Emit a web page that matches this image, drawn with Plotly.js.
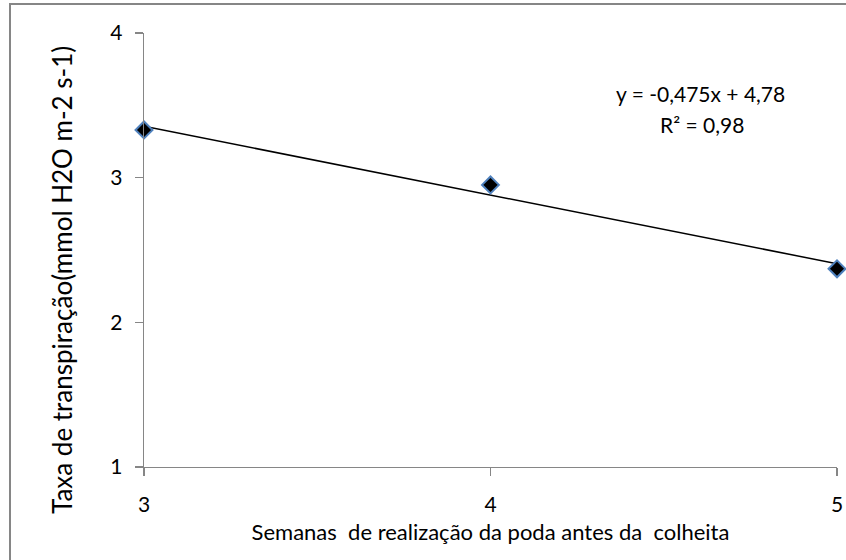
<!DOCTYPE html>
<html>
<head>
<meta charset="utf-8">
<script src="https://cdn.plot.ly/plotly-3.0.1.min.js"></script>
<style>html,body{margin:0;padding:0;background:#fff;}#chart{width:846px;height:560px;}</style>
</head>
<body>
<div id="chart"></div>
<script>
// Data
const weeks = [3, 4, 5];
const transpiration = [3.33, 2.95, 2.37];
const xTicks = [3, 4, 5];
const yTicks = [1, 2, 3, 4];
const trendSlope = -0.475;
const trendIntercept = 4.78;
const eqText = 'y = -0,475x + 4,78';
const r2Text = 'R\u00b2 = 0,98';
const xTitle = 'Semanas\u00a0 de realização da poda antes da\u00a0 colheita';
const yTitle = 'Taxa de transpiração(mmol H2O m-2 s-1)';

const trendX = [weeks[0], weeks[weeks.length - 1]];
const trendY = trendX.map(x => trendSlope * x + trendIntercept);

const font = 'Lato, "Open Sans", sans-serif';

const traces = [
  {
    x: trendX, y: trendY, type: 'scatter', mode: 'lines',
    line: {color: '#000000', width: 1.5},
    hoverinfo: 'skip', showlegend: false, cliponaxis: false
  },
  {
    x: weeks, y: transpiration, type: 'scatter', mode: 'markers',
    marker: {symbol: 'diamond', size: 13, color: '#000000', line: {color: '#4f81bd', width: 2}},
    showlegend: false, cliponaxis: false
  }
];

const L = 144, R = 9, T = 33, B = 93;
const W = 846, H = 560;
const pw = W - L - R, ph = H - T - B;

const layout = {
  width: W, height: H,
  margin: {l: L, r: R, t: T, b: B},
  paper_bgcolor: '#ffffff', plot_bgcolor: '#ffffff',
  font: {family: font, color: '#000000', size: 21},
  xaxis: {
    range: [3, 5], tickvals: xTicks, ticktext: xTicks.map(String),
    showgrid: false, zeroline: false, showline: true, linecolor: '#868686', linewidth: 1.3,
    ticks: 'outside', ticklen: 8, tickcolor: '#868686', tickwidth: 1.3,
    tickfont: {family: font, size: 21, color: '#000000'},
    ticklabelstandoff: 10,
    title: {text: xTitle, font: {family: font, size: 22, color: '#000000'}, standoff: 10}
  },
  yaxis: {
    range: [1, 4], tickvals: yTicks, ticktext: yTicks.map(String),
    showgrid: false, zeroline: false, showline: true, linecolor: '#868686', linewidth: 1.3,
    ticks: 'outside', ticklen: 8, tickcolor: '#868686', tickwidth: 1.3,
    tickfont: {family: font, size: 21, color: '#000000'},
    ticklabelstandoff: 8
  },
  annotations: [
    {xref: 'paper', yref: 'paper', x: (62 - L) / pw, y: 1 - (280 - T) / ph,
     text: yTitle, textangle: -90, showarrow: false,
     font: {family: font, size: 26, color: '#000000'}, xanchor: 'center', yanchor: 'middle'},
    {xref: 'paper', yref: 'paper', x: (700 - L) / pw, y: 1 - (93 - T) / ph,
     text: eqText, showarrow: false, font: {family: font, size: 21, color: '#000000'},
     xanchor: 'center', yanchor: 'middle'},
    {xref: 'paper', yref: 'paper', x: (702 - L) / pw, y: 1 - (124 - T) / ph,
     text: r2Text, showarrow: false, font: {family: font, size: 21, color: '#000000'},
     xanchor: 'center', yanchor: 'middle'}
  ],
  shapes: [
    {type: 'rect', xref: 'paper', yref: 'paper',
     x0: (10 - L) / pw, x1: (W + 20 - L) / pw,
     y0: 1 - (H + 20 - T) / ph, y1: 1 + (T - 4) / ph,
     line: {color: '#868686', width: 2}, fillcolor: 'rgba(0,0,0,0)', layer: 'below'}
  ]
};

Plotly.newPlot('chart', traces, layout, {displayModeBar: false, staticPlot: true});
</script>
</body>
</html>
